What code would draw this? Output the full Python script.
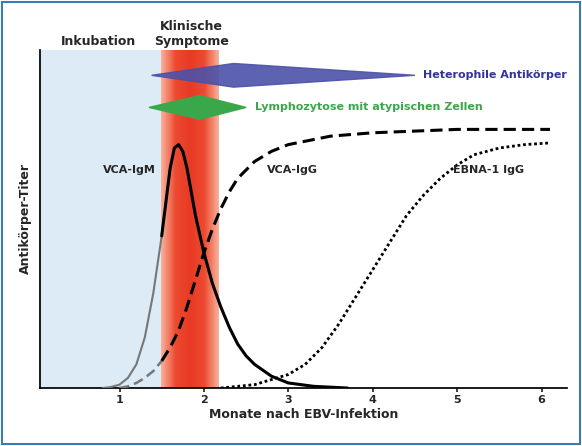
import numpy as np, pandas as pd, seaborn as sns, matplotlib
matplotlib.use("Agg")
import matplotlib.pyplot as plt
from matplotlib.colors import LinearSegmentedColormap
from matplotlib.patches import Polygon, Rectangle

igm_x = [0.8,0.9,1.0,1.1,1.2,1.3,1.4,1.5,1.55,1.6,1.65,1.7,1.75,1.8,1.85,1.9,2.0,2.1,2.2,2.3,2.4,2.5,2.6,2.8,3.0,3.3,3.7]
igm_y = [0,0.3,1,3,7,15,28,45,55,65,71,72,70,65,58,51,40,31,24,18,13,9.5,7,3.5,1.5,0.5,0]
igg_x = [1.0,1.1,1.2,1.3,1.4,1.5,1.6,1.7,1.8,1.9,2.0,2.1,2.2,2.3,2.4,2.6,2.8,3.0,3.5,4.0,4.5,5.0,6.1]
igg_y = [0,0.5,1.5,3,5,8,12,17,24,32,40,47,53,58,62,67,70,72,74.5,75.5,76,76.5,76.5]
ebna_x = [2.2,2.6,3.0,3.2,3.4,3.6,3.8,4.0,4.2,4.4,4.6,4.8,5.0,5.2,5.5,5.8,6.1]
ebna_y = [0,1,4,7,12,19,27,35,43,51,57,62,66,69,71,72,72.5]
xticks = [1,2,3,4,5,6]

sns.set_theme(style="white")
plt.rcParams['font.family'] = ['DejaVu Sans']
fig = plt.figure(figsize=(5.82,4.46), dpi=100)
ax = fig.add_axes([0.069,0.13,0.905,0.758])
ax.set_xlim(0.06,6.3); ax.set_ylim(0,100)

ax.add_patch(Rectangle((0.06,0),1.43,100,color="#dcebf6",zorder=0))
cm = LinearSegmentedColormap.from_list("r",["#f8b09a","#ec4a30","#e83a25","#ec4a30","#f8b09a"])
ax.imshow(np.linspace(0,1,100)[None,:],cmap=cm,extent=[1.49,2.17,0,100],aspect="auto",zorder=1)

def part(xs, ys, lo, hi):
    p = [(x,y) for x,y in zip(xs,ys) if lo<=x<=hi]
    return [q[0] for q in p],[q[1] for q in p]
x1,y1 = part(igm_x,igm_y,0,1.5); x2,y2 = part(igm_x,igm_y,1.5,9)
sns.lineplot(x=x1, y=y1, ax=ax, color="#777777", lw=1.5, sort=False, zorder=3)
sns.lineplot(x=x2, y=y2, ax=ax, color="black", lw=2.2, sort=False, zorder=3)
x1,y1 = part(igg_x,igg_y,0,1.5); x2,y2 = part(igg_x,igg_y,1.5,9)
sns.lineplot(x=x1, y=y1, ax=ax, color="#777777", lw=1.8, ls=(0,(4,2)), sort=False, zorder=3)
sns.lineplot(x=x2, y=y2, ax=ax, color="black", lw=2.2, ls=(0,(4,2)), sort=False, zorder=3)
sns.lineplot(x=ebna_x, y=ebna_y, ax=ax, color="black", lw=2, ls=(0,(1,1)), sort=False, zorder=3)

ax.add_patch(Polygon([(1.38,92.5),(2.35,96),(4.5,92.5),(2.35,89)],closed=True,color="#4b52a8",alpha=0.9,zorder=4))
ax.add_patch(Polygon([(1.35,83),(1.95,86.5),(2.5,83),(1.95,79.5)],closed=True,color="#3aa84a",zorder=4))
ax.text(4.6,92.5,"Heterophile Antikörper",color="#33339a",fontsize=8,fontweight="bold",va="center")
ax.text(2.6,83,"Lymphozytose mit atypischen Zellen",color="#3aa84a",fontsize=8,fontweight="bold",va="center")
ax.text(0.8,63.5,"VCA-IgM",fontsize=8,fontweight="bold")
ax.text(2.75,63.5,"VCA-IgG",fontsize=8,fontweight="bold")
ax.text(4.95,63.5,"EBNA-1 IgG",fontsize=8,fontweight="bold")
ax.text(0.75,101.5,"Inkubation",fontsize=9,fontweight="bold",ha="center")
ax.text(1.85,101.5,"Klinische\nSymptome",fontsize=9,fontweight="bold",ha="center")

ax.set_xticks(xticks); ax.set_xticklabels([str(t) for t in xticks],fontsize=8,fontweight="bold")
ax.set_yticks([])
ax.tick_params(axis="x",length=3,bottom=True,pad=2)
for s in ["top","right"]: ax.spines[s].set_visible(False)
for s in ["left","bottom"]: ax.spines[s].set_color("black")
ax.set_xlabel("Monate nach EBV-Infektion",fontsize=9,fontweight="bold",labelpad=2)
ax.set_ylabel("Antikörper-Titer",fontsize=9,fontweight="bold",labelpad=6)
fig.add_artist(Rectangle((0.004,0.004),0.992,0.992,transform=fig.transFigure,fill=False,ec="#3a7ab8",lw=1.5))
fig.savefig("out.png",dpi=100)
